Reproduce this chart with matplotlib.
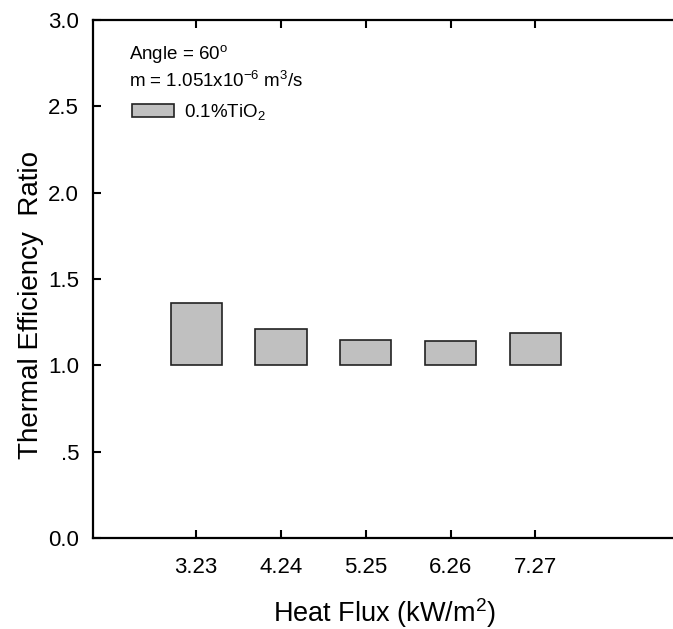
import numpy as np
import matplotlib.pyplot as plt

plt.rcParams['font.family'] = ['Liberation Sans', 'DejaVu Sans']
plt.rcParams['mathtext.fontset'] = 'custom'
plt.rcParams['mathtext.rm'] = 'Liberation Sans'
plt.rcParams['mathtext.it'] = 'Liberation Sans'

heat_flux = [3.23, 4.24, 5.25, 6.26, 7.27]
ratio = [1.362, 1.213, 1.147, 1.140, 1.187]
base = 1.0
yticks = [0.0, 0.5, 1.0, 1.5, 2.0, 2.5, 3.0]
ytick_labels = ['0.0', '.5', '1.0', '1.5', '2.0', '2.5', '3.0']

fig = plt.figure(figsize=(6.73, 6.29), dpi=100)
ax = fig.add_axes([93/673, 91/629, 590/673, 518/629])

heights = [r - base for r in ratio]
ax.bar(heat_flux, heights, bottom=base, width=0.61, color='#c0c0c0',
       edgecolor='#222222', linewidth=1.2, label='0.1%TiO$_2$')

ax.set_xlim(2.0, 9.03)
ax.set_ylim(0.0, 3.0)
ax.set_xticks(heat_flux)
ax.set_xticklabels(['%.2f' % v for v in heat_flux])
ax.set_yticks(yticks)
ax.set_yticklabels(ytick_labels)
ax.tick_params(direction='in', length=6, width=1.5, labelsize=16,
               top=True, right=True)
ax.tick_params(axis='x', pad=14)
ax.tick_params(axis='y', pad=10)
for s in ax.spines.values():
    s.set_linewidth(1.6)
# right frame line falls just outside the picture in the original
ax.spines['right'].set_visible(False)

ax.set_xlabel('Heat Flux (kW/m$^2$)', fontsize=19.5)
ax.xaxis.set_label_coords(0.494, -0.112)
ax.set_ylabel('Thermal Efficiency  Ratio', fontsize=20)
ax.yaxis.set_label_coords(-0.083, 0.45)

ax.text(0.061, 0.925, 'Angle = 60$^{\\mathrm{o}}$', transform=ax.transAxes, fontsize=13.5)
ax.text(0.061, 0.871, 'm = 1.051x10$^{-6}$ m$^3$/s', transform=ax.transAxes, fontsize=13.5)
ax.legend(loc='center left', bbox_to_anchor=(0.066, 0.822), frameon=False,
          fontsize=13.5, handlelength=2.24, handleheight=0.65, handletextpad=0.55,
          borderaxespad=0, borderpad=0)

fig.savefig('out.png', dpi=100)
